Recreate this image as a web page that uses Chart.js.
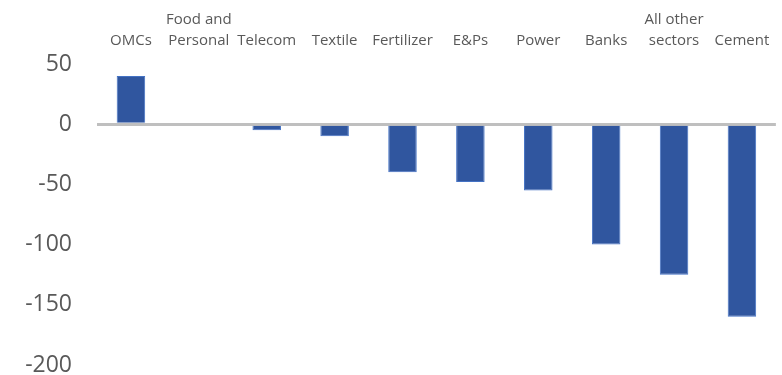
<!DOCTYPE html>
<html>
<head>
<meta charset="utf-8">
<script src="https://cdn.jsdelivr.net/npm/chart.js@4"></script>
<style>
  html, body { margin: 0; padding: 0; background: #fff; overflow: hidden; }
  canvas { display: block; }
</style>
</head>
<body>
<canvas id="myChart" width="782" height="375"></canvas>
<script>
// sector labels (top axis) and values
const sectors = ['OMCs', ['Food and', 'Personal'], 'Telecom', 'Textile', 'Fertilizer', 'E&Ps', 'Power', 'Banks', ['All other', 'sectors'], 'Cement'];
const values = [40, 0, -5, -10, -40, -48, -55, -100, -125, -160];
const yMin = -200;
const yMax = 50;
const yStep = 50;

var myChart = '';

const init = function () {
  const ctx = document.getElementById('myChart').getContext('2d');
  myChart = new Chart(ctx, {
    type: 'bar',
    data: {
      labels: sectors,
      datasets: [
        {
          label: 'value',
          data: values,
          backgroundColor: '#30569f',
          borderColor: '#4472c4',
          borderWidth: 1,
          barPercentage: 0.42,
          categoryPercentage: 1,
        },
      ],
    },
    options: {
      responsive: false,
      animation: false,
      layout: { padding: { top: 0, right: 4, bottom: 10, left: 0 } },
      plugins: {
        legend: { display: false },
        tooltip: { enabled: false },
      },
      scales: {
        x: {
          position: 'top',
          grid: { display: false, drawTicks: false },
          border: { display: false },
          ticks: {
            color: '#595959',
            padding: 12.5,
            maxRotation: 0,
            autoSkip: false,
            font: { family: 'Open Sans', size: 15, lineHeight: 1.4 },
          },
          afterFit: function (scale) {
            scale.height = 64;
          },
        },
        y: {
          min: yMin,
          max: yMax,
          grid: {
            drawTicks: false,
            color: (c) => (c.tick && c.tick.value === 0 ? '#bfbfbf' : 'rgba(0,0,0,0)'),
            lineWidth: (c) => (c.tick && c.tick.value === 0 ? 3 : 0),
          },
          border: { display: false },
          ticks: {
            stepSize: yStep,
            color: '#595959',
            padding: 25,
            font: { family: 'Open Sans', size: 23, lineHeight: 1 },
          },
          afterFit: function (scale) {
            // the big label gap should not eat into the plot height
            scale.width = 97;
            scale.paddingTop = 0;
            scale.paddingBottom = 0;
          },
        },
      },
    },
  });
};

document.addEventListener('DOMContentLoaded', init);
</script>
</body>
</html>
